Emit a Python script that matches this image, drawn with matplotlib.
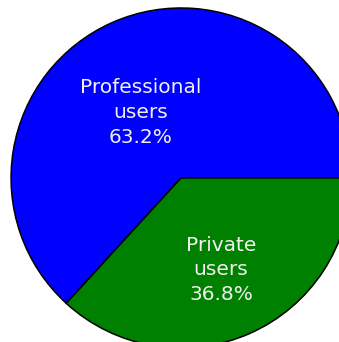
import matplotlib
matplotlib.use("Agg")
import matplotlib.pyplot as plt

categories = ["Professional\nusers", "Private\nusers"]
shares = [63.2, 36.8]
colors = ["#0000FF", "#008000"]

# label anchor points (in pie radius units)
LABEL_POS = [(-0.24, 0.385), (0.235, -0.54)]

fig = plt.figure(figsize=(3.39, 3.42), dpi=100)
ax = fig.add_axes([0, 0, 1, 1])

wedges, _ = ax.pie(shares, colors=colors, startangle=0, counterclock=True,
                   wedgeprops=dict(edgecolor="black", linewidth=1.1))

for (x, y), cat, val in zip(LABEL_POS, categories, shares):
    ax.text(x, y, f"{cat}\n{val:.1f}%", ha="center", va="center",
            color="#F0F0F0", fontsize=14.5, linespacing=1.38)

ax.set_xlim(-1.065, 0.929)
ax.set_ylim(-0.965, 1.047)
ax.set_aspect("auto")
ax.axis("off")

fig.savefig("out.png", dpi=100)
